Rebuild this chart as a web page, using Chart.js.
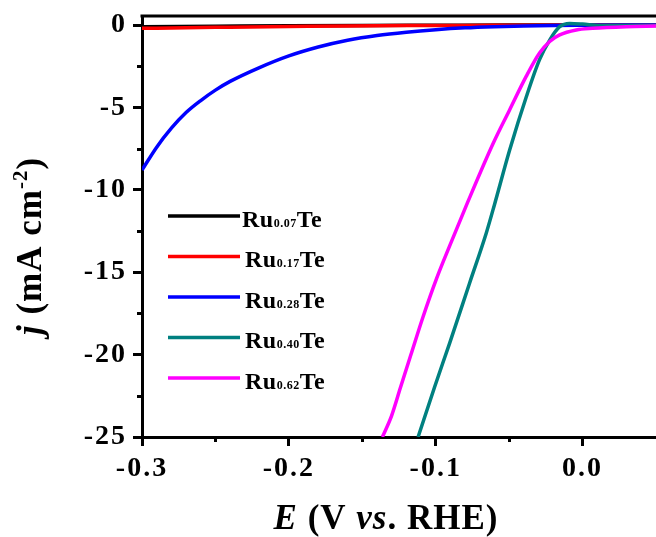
<!DOCTYPE html>
<html>
<head>
<meta charset="utf-8">
<title>HER polarization curves</title>
<script src="https://cdn.jsdelivr.net/npm/chart.js@4.4.0/dist/chart.umd.min.js"></script>
<style>
    html, body { margin: 0; padding: 0; background: #fff; }
    #wrap { width: 656px; height: 537px; }
</style>
</head>
<body>
<div id="wrap"><canvas id="lsvChart" width="656" height="537"></canvas></div>
<script>
// Sample compositions (Ru_x Te) and their colours
const subscripts = ['0.07', '0.17', '0.28', '0.40', '0.62'];
const lineColors = ['#000000', '#ff0000', '#0000ff', '#008080', '#ff00ff'];

// Potential E (V vs. RHE) and current density j (mA cm-2) for each sample
const ru007E = [-0.30, -0.25, -0.20, -0.15, -0.10, -0.05, 0.00, 0.05];
const ru007J = [-0.10, -0.07, -0.04, -0.02, -0.01, 0.00, 0.00, 0.00];

const ru017E = [-0.30, -0.27, -0.24, -0.20, -0.16, -0.12, -0.08, -0.04, 0.00, 0.05];
const ru017J = [-0.20, -0.16, -0.13, -0.09, -0.05, -0.03, -0.02, -0.01, 0.00, 0.00];

const ru028E = [-0.30, -0.29, -0.28, -0.27, -0.26, -0.25, -0.24, -0.22, -0.20, -0.18,
                -0.16, -0.14, -0.12, -0.10, -0.08, -0.06, -0.04, -0.02, 0.00, 0.05];
const ru028J = [-8.80, -7.41, -6.26, -5.31, -4.58, -3.95, -3.42, -2.58, -1.87, -1.33,
                -0.92, -0.63, -0.43, -0.28, -0.17, -0.10, -0.05, -0.02, -0.01, 0.00];

const ru040E = [-0.1120, -0.1007, -0.0905, -0.0769, -0.0655, -0.0600, -0.0497, -0.0383,
                -0.0293, -0.0224, -0.0156, -0.0088, 0.0000, 0.0116, 0.0300, 0.0500];
const ru040J = [-25.00, -21.95, -19.30, -15.65, -12.60, -10.90, -7.60, -4.35,
                -2.10, -0.91, -0.10, 0.10, 0.06, -0.03, -0.02, -0.02];

const ru062E = [-0.1363, -0.1300, -0.1240, -0.1165, -0.1086, -0.0995, -0.0905, -0.0780,
                -0.0610, -0.0497, -0.0383, -0.0293, -0.0224, -0.0156, -0.0043, 0.0068,
                0.0297, 0.0500];
const ru062J = [-25.00, -23.70, -22.00, -19.90, -17.70, -15.40, -13.40, -10.70,
                -7.20, -5.15, -3.10, -1.70, -1.00, -0.60, -0.30, -0.20,
                -0.10, -0.06];

const seriesE = [ru007E, ru017E, ru028E, ru040E, ru062E];
const seriesJ = [ru007J, ru017J, ru028J, ru040J, ru062J];

// Axis ticks
const xMajorTicks = [-0.3, -0.2, -0.1, 0.0];
const xMinorTicks = [-0.25, -0.15, -0.05];
const yMajorTicks = [0, -5, -10, -15, -20, -25];
const yMinorTicks = [-2.5, -7.5, -12.5, -17.5, -22.5];

const FONT = "'Liberation Serif', 'Times New Roman', serif";

function zipPoints(xs, ys) {
    return xs.map((x, i) => ({ x: x, y: ys[i] }));
}

const datasets = subscripts.map((sub, i) => ({
    label: 'Ru' + sub + 'Te',
    data: zipPoints(seriesE[i], seriesJ[i]),
    borderColor: lineColors[i],
    backgroundColor: lineColors[i],
    borderWidth: 3.5,
    pointRadius: 0,
    cubicInterpolationMode: 'monotone',
    fill: false,
    // later samples are drawn over earlier ones
    order: subscripts.length - 1 - i
}));

// Slightly wider tick lettering, only while the axes are painted
const tickSpacing = {
    id: 'tickSpacing',
    beforeDraw(chart) { chart.ctx.letterSpacing = '2px'; },
    beforeDatasetsDraw(chart) { chart.ctx.letterSpacing = '0px'; }
};

// Minor ticks and the top frame line
const frameDecor = {
    id: 'frameDecor',
    afterDraw(chart) {
        const ctx = chart.ctx;
        const area = chart.chartArea;
        const xs = chart.scales.x;
        const ys = chart.scales.y;
        ctx.save();
        ctx.strokeStyle = '#000';
        ctx.lineWidth = 3;
        ctx.lineCap = 'butt';

        ctx.beginPath();
        ctx.moveTo(area.left - 1.5, area.top);
        ctx.lineTo(area.right, area.top);
        ctx.stroke();

        xMinorTicks.forEach(v => {
            const px = Math.round(xs.getPixelForValue(v)) + 0.5;
            ctx.beginPath();
            ctx.moveTo(px, area.bottom);
            ctx.lineTo(px, area.bottom + 5);
            ctx.stroke();
        });
        yMinorTicks.forEach(v => {
            const py = Math.round(ys.getPixelForValue(v)) + 0.5;
            ctx.beginPath();
            ctx.moveTo(area.left, py);
            ctx.lineTo(area.left - 5, py);
            ctx.stroke();
        });
        ctx.restore();
    }
};

// Draws a run of [text, font, dy] pieces starting at x, returns end x
function drawRuns(ctx, runs, x, y) {
    runs.forEach(r => {
        ctx.font = r[1];
        ctx.fillText(r[0], x, y + (r[2] || 0));
        x += ctx.measureText(r[0]).width;
    });
    return x;
}

function runsWidth(ctx, runs) {
    let w = 0;
    runs.forEach(r => {
        ctx.font = r[1];
        w += ctx.measureText(r[0]).width;
    });
    return w;
}

// Axis titles with italic symbols and superscript
const axisTitles = {
    id: 'axisTitles',
    afterDraw(chart) {
        const ctx = chart.ctx;
        ctx.save();
        ctx.fillStyle = '#000';
        ctx.textBaseline = 'alphabetic';
        ctx.textAlign = 'left';
        ctx.letterSpacing = '1px';

        const big = 'bold 35px ' + FONT;
        const bigIt = 'italic bold 35px ' + FONT;
        const xRuns = [['E', bigIt], [' (V ', big], ['vs', bigIt], ['. RHE)', big]];
        const xw = runsWidth(ctx, xRuns);
        drawRuns(ctx, xRuns, 386 - xw / 2, 529);

        const yRuns = [['j', bigIt], [' (mA cm', big], ['-2', 'bold 21px ' + FONT, -14], [')', big]];
        const yw = runsWidth(ctx, yRuns);
        ctx.translate(41, 246);
        ctx.rotate(-Math.PI / 2);
        drawRuns(ctx, yRuns, -yw / 2, 0);
        ctx.restore();
    }
};

// Legend with subscripted composition
const formulaLegend = {
    id: 'formulaLegend',
    afterDraw(chart) {
        const ctx = chart.ctx;
        ctx.save();
        ctx.textBaseline = 'alphabetic';
        ctx.textAlign = 'left';
        ctx.letterSpacing = '0.5px';
        chart.data.datasets.forEach((ds, i) => {
            const y = 216 + i * 40.5;
            ctx.strokeStyle = ds.borderColor;
            ctx.lineWidth = 3.5;
            ctx.beginPath();
            ctx.moveTo(168, y);
            ctx.lineTo(240, y);
            ctx.stroke();

            ctx.fillStyle = '#000';
            drawRuns(ctx, [
                ['Ru', 'bold 24px ' + FONT],
                [subscripts[i], 'bold 12px ' + FONT],
                ['Te', 'bold 24px ' + FONT]
            ], i === 0 ? 242 : 245, y + 10.5);
        });
        ctx.restore();
    }
};

const tickFont = { family: FONT, size: 28, weight: 'bold' };

new Chart(document.getElementById('lsvChart'), {
    type: 'line',
    data: { datasets: datasets },
    options: {
        responsive: false,
        animation: false,
        layout: { padding: { top: 16, right: 0, bottom: 0, left: 0 } },
        plugins: {
            legend: { display: false },
            tooltip: { enabled: false }
        },
        scales: {
            x: {
                type: 'linear',
                min: -0.3,
                max: 0.05,
                afterFit: s => { s.height = 100; s.paddingLeft = 0; s.paddingRight = 0; },
                afterBuildTicks: s => { s.ticks = xMajorTicks.map(v => ({ value: v })); },
                grid: {
                    drawOnChartArea: false,
                    drawTicks: true,
                    tickLength: 9,
                    lineWidth: 3,
                    tickWidth: 3,
                    color: '#000',
                    tickColor: '#000'
                },
                border: { display: true, color: '#000', width: 3 },
                ticks: {
                    color: '#000',
                    font: tickFont,
                    padding: 6,
                    maxRotation: 0,
                    callback: v => (Math.abs(v) < 1e-9 ? '0.0' : v.toFixed(1))
                }
            },
            y: {
                type: 'linear',
                min: -25,
                max: 0.55,
                afterFit: s => { s.width = 142; s.paddingTop = 0; s.paddingBottom = 0; },
                afterBuildTicks: s => { s.ticks = yMajorTicks.map(v => ({ value: v })); },
                grid: {
                    drawOnChartArea: false,
                    drawTicks: true,
                    tickLength: 9,
                    lineWidth: 3,
                    tickWidth: 3,
                    color: '#000',
                    tickColor: '#000'
                },
                border: { display: true, color: '#000', width: 3 },
                ticks: {
                    color: '#000',
                    font: tickFont,
                    padding: 6,
                    callback: v => String(v)
                }
            }
        }
    },
    plugins: [tickSpacing, frameDecor, axisTitles, formulaLegend]
});
</script>
</body>
</html>
